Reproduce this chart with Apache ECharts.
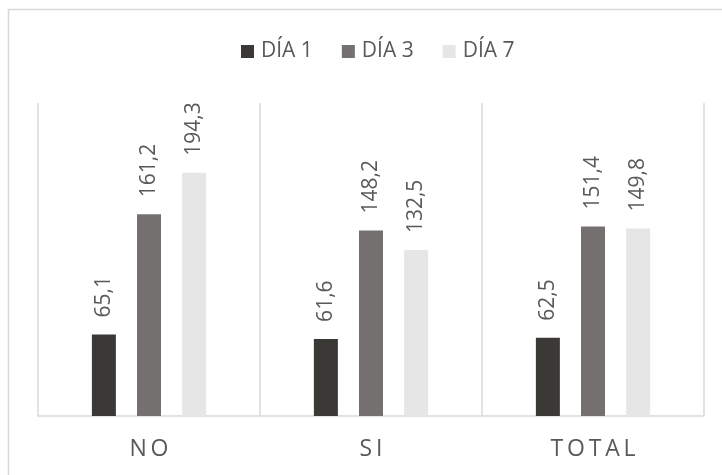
<!DOCTYPE html>
<html>
<head>
<meta charset="utf-8">
<script src="https://cdn.jsdelivr.net/npm/echarts@6/dist/echarts.min.js"></script>
<style>
  html, body { margin: 0; padding: 0; background: #fff; }
  #chart { width: 722px; height: 475px; }
</style>
</head>
<body>
<div id="chart"></div>
<script>
var categories = ["NO", "SI", "TOTAL"];
var seriesNames = ["DÍA 1", "DÍA 3", "DÍA 7"];
var dia1 = [65.1, 61.6, 62.5];
var dia3 = [161.2, 148.2, 151.4];
var dia7 = [194.3, 132.5, 149.8];
var colors = ["#3b3936", "#747070", "#e7e6e6"];

var font = "'Open Sans', 'Noto Sans', sans-serif";
var chart = echarts.init(document.getElementById("chart"));

function makeSeries(name, data, color) {
  return {
    name: name,
    type: "bar",
    data: data,
    barWidth: 24,
    barGap: "88%",
    itemStyle: { color: color },
    label: {
      show: true,
      position: "top",
      rotate: 90,
      align: "left",
      verticalAlign: "middle",
      distance: 17,
      color: "#595959",
      fontSize: 21,
      fontFamily: font,
      formatter: function (p) {
        return p.value.toFixed(1).replace(".", ",");
      }
    }
  };
}

chart.setOption({
  animation: false,
  color: colors,
  graphic: [{
    type: "rect",
    shape: { x: 8.5, y: 9.5, width: 760, height: 520 },
    style: { fill: "none", stroke: "#d9d9d9", lineWidth: 1.5 },
    silent: true
  }],
  legend: {
    data: seriesNames,
    top: 36,
    left: 236,
    itemWidth: 13,
    itemHeight: 13,
    itemGap: 29,
    icon: "rect",
    textStyle: { color: "#595959", fontSize: 21, fontFamily: font, padding: [0, 0, 0, 2] }
  },
  grid: { left: 38, right: 18, top: 103, bottom: 59 },
  xAxis: {
    type: "category",
    data: categories,
    axisLine: { lineStyle: { color: "#d9d9d9", width: 1.5 } },
    axisTick: { show: false },
    splitLine: { show: true, lineStyle: { color: "#d9d9d9", width: 1.5 } },
    axisLabel: {
      margin: 22,
      color: "#595959",
      fontSize: 23,
      fontFamily: font,
      formatter: function (v) { return v.split("").join("\u2009"); }
    }
  },
  yAxis: {
    type: "value",
    min: 0,
    max: 250,
    show: false
  },
  series: [
    makeSeries(seriesNames[0], dia1, colors[0]),
    makeSeries(seriesNames[1], dia3, colors[1]),
    makeSeries(seriesNames[2], dia7, colors[2])
  ]
});
</script>
</body>
</html>
